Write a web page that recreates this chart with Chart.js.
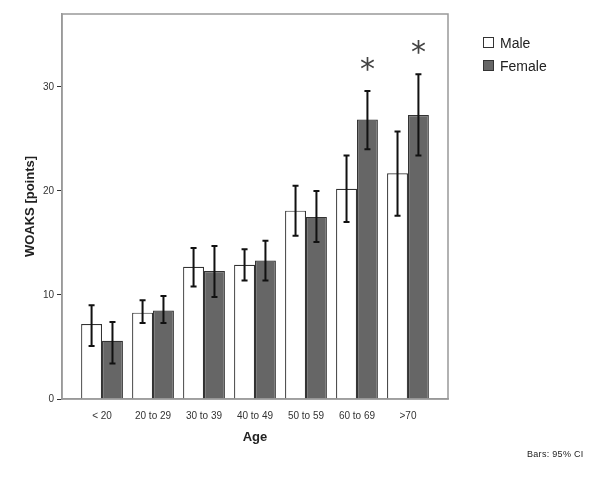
<!DOCTYPE html>
<html>
<head>
<meta charset="utf-8">
<script src="https://cdn.jsdelivr.net/npm/chart.js@4.4.1/dist/chart.umd.min.js"></script>
<style>
  html, body { margin: 0; padding: 0; background: #fff; }
  #wrap { position: relative; width: 600px; height: 480px; font-family: Arial, "Liberation Sans", sans-serif; }
  #legend { position: absolute; left: 483px; top: 31px; font-size: 14px; color: #222; }
  .item { display: flex; align-items: center; height: 23px; }
  .sw { width: 11px; height: 11px; border: 1.5px solid #333; margin-right: 6px; box-sizing: border-box; }
  #note { position: absolute; left: 527px; top: 449px; font-size: 9px; color: #222; letter-spacing: 0.3px; }
</style>
</head>
<body>
<div id="wrap">
  <canvas id="chart" width="600" height="480"></canvas>
  <div id="legend">
    <div class="item"><span class="sw" style="background:#fff"></span>Male</div>
    <div class="item"><span class="sw" style="background:#666"></span>Female</div>
  </div>
  <div id="note">Bars: 95% CI</div>
</div>
<script>
// WOAKS score by age group, mean with 95% CI
const ageGroups = ['< 20', '20 to 29', '30 to 39', '40 to 49', '50 to 59', '60 to 69', '>70'];
const maleMean = [7.2, 8.3, 12.7, 12.9, 18.1, 20.2, 21.7];
const maleLow = [5.1, 7.3, 10.8, 11.4, 15.7, 17.0, 17.6];
const maleHigh = [9.0, 9.5, 14.5, 14.4, 20.5, 23.4, 25.7];
const femaleMean = [5.6, 8.5, 12.3, 13.3, 17.5, 26.85, 27.3];
const femaleLow = [3.4, 7.3, 9.8, 11.4, 15.1, 24.0, 23.4];
const femaleHigh = [7.4, 9.9, 14.7, 15.2, 20.0, 29.6, 31.2];
const significant = [false, false, false, false, false, true, true];
const yTicks = [0, 10, 20, 30];

const ciLow = [maleLow, femaleLow];
const ciHigh = [maleHigh, femaleHigh];

// extra space between the frame and the first/last group (in category units)
const edgeGap = 0.785;

// draws the CI whiskers and the * marks using the chart's own scales
const errorBars = {
  id: 'errorBars',
  afterDatasetsDraw(chart) {
    const ctx = chart.ctx;
    const y = chart.scales.y;
    ctx.save();
    ctx.strokeStyle = '#111';
    ctx.lineWidth = 2;
    chart.data.datasets.forEach((ds, di) => {
      const meta = chart.getDatasetMeta(di);
      meta.data.forEach((bar, i) => {
        const x = bar.x;
        const yl = y.getPixelForValue(ciLow[di][i]);
        const yh = y.getPixelForValue(ciHigh[di][i]);
        ctx.beginPath();
        ctx.moveTo(x, yl); ctx.lineTo(x, yh);
        ctx.moveTo(x - 3, yl); ctx.lineTo(x + 3, yl);
        ctx.moveTo(x - 3, yh); ctx.lineTo(x + 3, yh);
        ctx.stroke();
        if (di === 1 && significant[i]) {
          ctx.fillStyle = '#444';
          ctx.font = '30px "DejaVu Sans", Arial';
          ctx.textAlign = 'center';
          ctx.textBaseline = 'middle';
          ctx.fillText('*', x, yh - 20);
        }
      });
    });
    // frame round the plot area
    const a = chart.chartArea;
    ctx.strokeStyle = '#999';
    ctx.lineWidth = 1.5;
    ctx.strokeRect(a.left, a.top, a.right - a.left, a.bottom - a.top);
    ctx.restore();
  }
};

const ctx = document.getElementById('chart').getContext('2d');
new Chart(ctx, {
  type: 'bar',
  data: {
    labels: ageGroups,
    datasets: [
      { label: 'Male', data: maleMean, backgroundColor: '#ffffff', borderColor: '#333', borderWidth: 1.2 },
      { label: 'Female', data: femaleMean, backgroundColor: '#666666', borderColor: '#333', borderWidth: 1.2 }
    ]
  },
  options: {
    responsive: false,
    animation: false,
    layout: { padding: { left: 0, right: 152, top: 14, bottom: 31 } },
    datasets: { bar: { categoryPercentage: 0.82, barPercentage: 1.0 } },
    plugins: { legend: { display: false }, tooltip: { enabled: false } },
    scales: {
      x: {
        grid: { display: false },
        border: { display: true, color: '#999', width: 1.5 },
        ticks: { color: '#333', font: { family: 'Arial', size: 10 }, padding: 3, maxRotation: 0 },
        title: { display: true, text: 'Age', color: '#222', font: { family: 'Arial', size: 13, weight: 'bold' }, padding: { top: 6 } },
        afterBuildTicks(axis) {
          // widen the value range so the groups sit in from the frame
          axis._startValue = -edgeGap;
          axis._valueRange = ageGroups.length - 1 + 2 * edgeGap;
        },
        afterFit(axis) { axis.height = 50; }
      },
      y: {
        min: 0, max: 37,
        afterBuildTicks(axis) { axis.ticks = yTicks.map(v => ({ value: v })); },
        grid: { drawOnChartArea: false, drawTicks: true, tickLength: 5, color: '#333' },
        border: { display: true, color: '#999', width: 1.5 },
        ticks: { color: '#333', font: { family: 'Arial', size: 10 }, padding: 3 },
        title: { display: true, text: 'WOAKS [points]', color: '#222', font: { family: 'Arial', size: 13, weight: 'bold' }, padding: { top: 23 } },
        afterFit(axis) { axis.width = 62; }
      }
    }
  },
  plugins: [errorBars]
});
</script>
</body>
</html>
